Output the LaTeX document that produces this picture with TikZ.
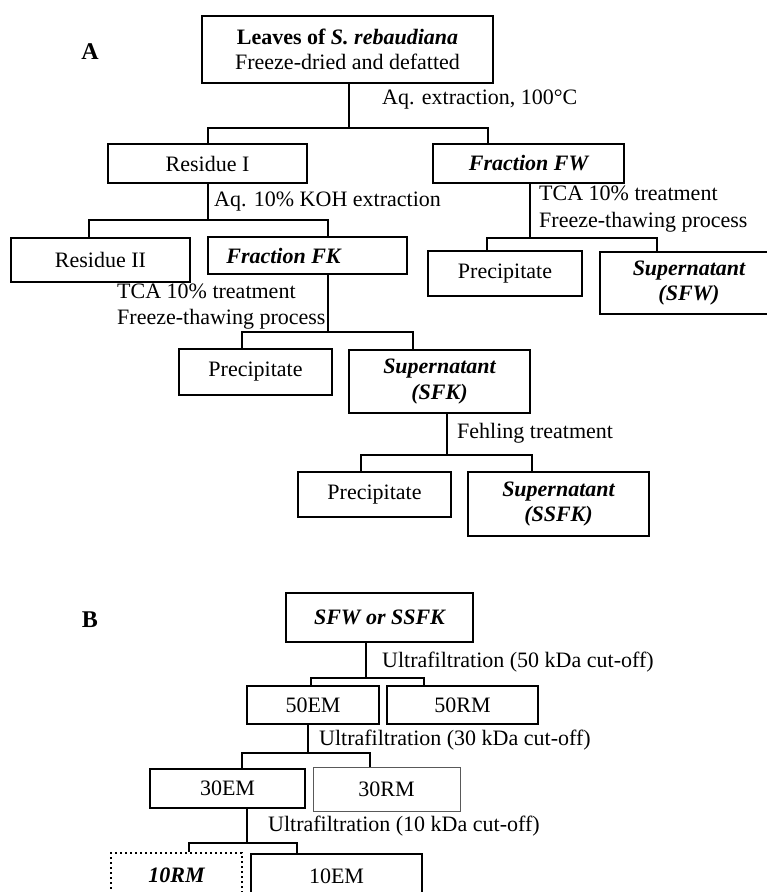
\documentclass[tikz,border=0pt]{standalone}
\usepackage{fontspec}
\setmainfont{Liberation Serif}
\begin{document}
\begin{tikzpicture}[x=1pt,y=-1pt,
  txt/.style={font=\fontsize{22}{25.5}\selectfont},
  box/.style={txt, draw, line width=1.2pt, inner sep=0pt, align=center},
  lbl/.style={txt, anchor=west, inner sep=0pt, align=left},
  conn/.style={line width=1.2pt},
  bi/.style={font=\fontsize{22}{25.5}\selectfont\bfseries\itshape}]
\clip (0,0) rectangle (767,892);
% Panel letters
\node[txt, font=\fontsize{24}{26}\selectfont\bfseries] (A) at (90,52) {A};
\node[txt, font=\fontsize{24}{26}\selectfont\bfseries] (B) at (90,620) {B};
% Panel A boxes
\node[box, minimum width=291pt, minimum height=67pt] (top) at (347.5,49.5)
  {\textbf{Leaves of \textit{S. rebaudiana}}\\Freeze-dried and defatted};
\node[box, minimum width=199pt, minimum height=39pt] (res1) at (207.5,163.5) {Residue I};
\node[box, bi, minimum width=191pt, minimum height=39pt] (fw) at (528.5,163.5) {Fraction FW};
\node[box, minimum width=179pt, minimum height=44pt] (res2) at (100.5,260) {Residue II};
\node[box, bi, minimum width=199pt, minimum height=37pt] (fk) at (307.5,255.5) {Fraction FK\hspace*{48pt}};
\node[box, minimum width=154pt, minimum height=45pt] (precR) at (505,273.5) {Precipitate};
\node[box, bi, minimum width=178pt, minimum height=62pt] (sfw) at (689,283) {Supernatant\\(SFW)};
\node[box, minimum width=153pt, minimum height=46pt] (precM) at (255.5,372) {Precipitate};
\node[box, bi, minimum width=181pt, minimum height=63pt] (sfk) at (439.5,381.5) {Supernatant\\(SFK)};
\node[box, minimum width=153pt, minimum height=45pt] (precB) at (374.5,494.5) {Precipitate};
\node[box, bi, minimum width=181pt, minimum height=64pt] (ssfk) at (558.5,504) {Supernatant\\(SSFK)};
% Panel A labels
\node[lbl] (l1) at (382,100) {Aq. extraction, 100°C};
\node[lbl] (l2) at (214,202) {Aq. 10\% KOH extraction};
\node[lbl, font=\fontsize{22}{27}\selectfont] (l3) at (539,209) {TCA 10\% treatment\\Freeze-thawing process};
\node[lbl] (l4) at (117,306.5) {TCA 10\% treatment\\Freeze-thawing process};
\node[lbl] (l5) at (457,433) {Fehling treatment};
% Panel B boxes
\node[box, bi, minimum width=187pt, minimum height=49pt] (src) at (379.5,617.5) {SFW or SSFK};
\node[box, minimum width=132pt, minimum height=38pt] (em50) at (313,705) {50EM};
\node[box, minimum width=151pt, minimum height=38pt] (rm50) at (462.5,705) {50RM};
\node[box, minimum width=155pt, minimum height=39pt] (em30) at (227.5,788.5) {30EM};
\node[box, draw=black!65, line width=0.8pt, minimum width=147pt, minimum height=44pt] (rm30) at (386.5,789) {30RM};
\node[box, bi, line width=2.4pt, dash pattern=on 2.4pt off 2.6pt, minimum width=131pt, minimum height=44pt] (rm10) at (176.5,875) {10RM};
\node[box, minimum width=171pt, minimum height=44pt] (em10) at (336.5,876) {10EM};
% Panel B labels
\node[lbl] (u50) at (382,662) {Ultrafiltration (50 kDa cut-off)};
\node[lbl] (u30) at (319,740) {Ultrafiltration (30 kDa cut-off)};
\node[lbl] (u10) at (268,826) {Ultrafiltration (10 kDa cut-off)};
% connector coordinates
\coordinate (s1) at (349,128); \coordinate (b1l) at (208,128); \coordinate (b1r) at (488,128);
\coordinate (s2) at (208,220); \coordinate (b2l) at (89,220);  \coordinate (b2r) at (328,220);
\coordinate (s3) at (530,238); \coordinate (b3l) at (487,238); \coordinate (b3r) at (657,238);
\coordinate (s4) at (328,332); \coordinate (b4l) at (242,332); \coordinate (b4r) at (413,332);
\coordinate (s5) at (447,455); \coordinate (b5l) at (361,455); \coordinate (b5r) at (532,455);
\coordinate (s6) at (366,678); \coordinate (b6l) at (311,678); \coordinate (b6r) at (424,678);
\coordinate (s7) at (308,753); \coordinate (b7l) at (242,753); \coordinate (b7r) at (370,753);
\coordinate (s8) at (247,843); \coordinate (b8l) at (189,843); \coordinate (b8r) at (297,843);
% connectors
\draw[conn] (top.south -| s1) -- (s1);
\draw[conn] (res1.north -| b1l) -- (b1l) -- (b1r) -- (fw.north -| b1r);
\draw[conn] (res1.south -| s2) -- (s2);
\draw[conn] (res2.north -| b2l) -- (b2l) -- (b2r) -- (fk.north -| b2r);
\draw[conn] (fw.south -| s3) -- (s3);
\draw[conn] (precR.north -| b3l) -- (b3l) -- (b3r) -- (sfw.north -| b3r);
\draw[conn] (fk.south -| s4) -- (s4);
\draw[conn] (precM.north -| b4l) -- (b4l) -- (b4r) -- (sfk.north -| b4r);
\draw[conn] (sfk.south -| s5) -- (s5);
\draw[conn] (precB.north -| b5l) -- (b5l) -- (b5r) -- (ssfk.north -| b5r);
\draw[conn] (src.south -| s6) -- (s6);
\draw[conn] (em50.north -| b6l) -- (b6l) -- (b6r) -- (rm50.north -| b6r);
\draw[conn] (em50.south -| s7) -- (s7);
\draw[conn] (em30.north -| b7l) -- (b7l) -- (b7r) -- (rm30.north -| b7r);
\draw[conn] (em30.south -| s8) -- (s8);
\draw[conn] (rm10.north -| b8l) -- (b8l) -- (b8r) -- (em10.north -| b8r);
\end{tikzpicture}
\end{document}
